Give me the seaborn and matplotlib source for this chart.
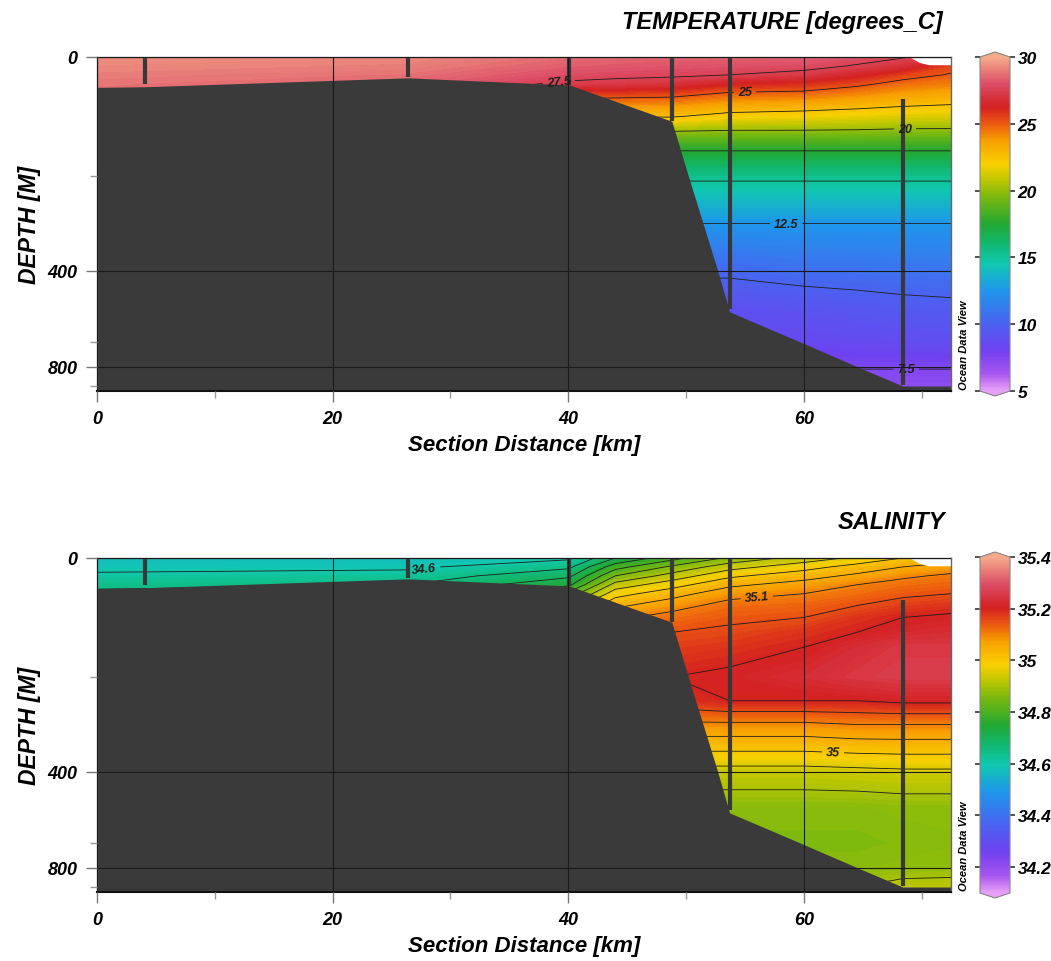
import numpy as np
import matplotlib
matplotlib.use("Agg")
import matplotlib.pyplot as plt
import seaborn as sns
from matplotlib.colors import LinearSegmentedColormap, Normalize
from matplotlib.scale import FuncScale
import matplotlib.cm as cm

# ---------------- data ----------------
dist_km = [0.0, 26.4, 40.1, 44.0, 48.8, 53.7, 60.0, 64.5, 68.4, 72.5]
depth_m = [0, 15, 30, 45, 60, 80, 100, 125, 150, 200, 250, 300, 400, 500, 600, 800, 1000, 1100]

# rows = depth_m, columns = dist_km
temperature = [
    [29.4, 29.2, 28.6, 28.5, 28.4, 28.4, 28.3, 28.0, 27.6, 27.0],
    [29.2, 29.0, 28.3, 28.2, 28.1, 28.0, 27.9, 27.4, 26.8, 25.4],
    [29.0, 28.7, 27.9, 27.8, 27.7, 27.5, 27.1, 26.4, 25.5, 24.9],
    [28.8, 28.4, 27.3, 27.1, 26.9, 26.2, 25.9, 25.3, 24.6, 24.3],
    [28.6, 28.0, 25.8, 25.7, 25.6, 24.95, 24.8, 24.3, 23.8, 23.5],
    [28.3, 27.5, 24.2, 24.1, 24.0, 23.5, 23.3, 23.0, 22.7, 22.5],
    [28.0, 27.0, 22.7, 22.6, 22.6, 22.0, 21.8, 21.6, 21.4, 21.3],
    [27.5, 26.0, 20.2, 20.1, 20.0, 19.85, 19.85, 19.8, 19.7, 19.7],
    [27.0, 25.0, 18.0, 17.9, 17.9, 17.9, 17.9, 17.9, 17.9, 17.9],
    [26.0, 23.0, 15.3, 15.3, 15.3, 15.3, 15.3, 15.3, 15.3, 15.3],
    [25.0, 21.0, 13.9, 13.9, 13.9, 13.9, 13.9, 13.9, 13.9, 13.9],
    [24.0, 19.0, 12.5, 12.5, 12.5, 12.5, 12.5, 12.5, 12.5, 12.5],
    [20.0, 15.0, 10.25, 10.25, 10.25, 10.25, 10.6, 10.7, 10.8, 10.9],
    [16.0, 12.0, 9.0, 9.0, 9.0, 9.0, 9.2, 9.4, 9.6, 9.7],
    [12.0, 10.0, 8.4, 8.4, 8.4, 8.4, 8.5, 8.6, 8.7, 8.8],
    [8.0, 7.8, 7.55, 7.55, 7.55, 7.55, 7.55, 7.55, 7.55, 7.55],
    [7.1, 7.1, 7.1, 7.1, 7.1, 7.1, 7.1, 7.1, 7.1, 7.1],
    [7.0, 7.0, 7.0, 7.0, 7.0, 7.0, 7.0, 7.0, 7.0, 7.0],
]

salinity = [
    [34.57, 34.57, 34.59, 34.70, 34.78, 34.86, 34.92, 34.96, 35.00, 35.03],
    [34.585, 34.59, 34.64, 34.78, 34.86, 34.93, 34.98, 35.02, 35.05, 35.07],
    [34.61, 34.62, 34.69, 34.85, 34.92, 34.99, 35.03, 35.06, 35.09, 35.11],
    [34.64, 34.65, 34.74, 34.92, 34.98, 35.04, 35.07, 35.10, 35.12, 35.13],
    [34.66, 34.70, 34.82, 34.98, 35.03, 35.08, 35.10, 35.12, 35.14, 35.15],
    [34.75, 34.80, 34.92, 35.04, 35.08, 35.12, 35.13, 35.15, 35.17, 35.18],
    [34.85, 34.90, 35.00, 35.09, 35.12, 35.14, 35.15, 35.18, 35.20, 35.21],
    [35.00, 35.05, 35.10, 35.13, 35.15, 35.16, 35.18, 35.20, 35.22, 35.23],
    [35.10, 35.12, 35.15, 35.17, 35.17, 35.18, 35.20, 35.23, 35.25, 35.25],
    [35.15, 35.18, 35.20, 35.20, 35.20, 35.21, 35.23, 35.25, 35.26, 35.26],
    [35.15, 35.16, 35.18, 35.18, 35.18, 35.20, 35.20, 35.20, 35.21, 35.21],
    [35.09, 35.09, 35.09, 35.09, 35.09, 35.09, 35.09, 35.10, 35.10, 35.10],
    [34.93, 34.93, 34.93, 34.93, 34.93, 34.93, 34.93, 34.935, 34.94, 34.94],
    [34.87, 34.87, 34.87, 34.87, 34.87, 34.87, 34.87, 34.87, 34.875, 34.875],
    [34.86, 34.86, 34.86, 34.86, 34.86, 34.86, 34.86, 34.86, 34.865, 34.87],
    [34.87, 34.87, 34.87, 34.87, 34.87, 34.87, 34.87, 34.87, 34.875, 34.88],
    [34.89, 34.89, 34.89, 34.89, 34.89, 34.89, 34.89, 34.90, 34.92, 34.92],
    [34.90, 34.90, 34.90, 34.90, 34.90, 34.90, 34.90, 34.91, 34.93, 34.93],
]

# bathymetry (sea floor) and stations
bathy_km = [0.0, 4.06, 26.4, 40.1, 48.8, 50.2, 52.7, 53.7, 59.7, 64.6, 68.4, 72.5]
bathy_m = [51, 50, 35, 47, 108, 200, 400, 515, 600, 800, 1000, 1000]
station_km = [4.06, 26.4, 40.1, 48.8, 53.7, 68.4]
station_top_m = [0, 0, 0, 0, 0, 71]
station_bottom_m = [45, 34, 47, 108, 507, 990]
nodata_km = [69.0, 69.8, 70.6, 72.5]
nodata_m = [0, 9, 13, 13]

temp_lines = [7.5, 10, 12.5, 15, 17.5, 20, 22.5, 25, 27.5]
temp_ticks = [5, 10, 15, 20, 25, 30]
sal_lines = [34.6, 34.65, 34.7, 34.75, 34.8, 34.85, 34.9, 34.95, 35.0, 35.05, 35.1, 35.15, 35.2]
sal_ticks = [34.2, 34.4, 34.6, 34.8, 35.0, 35.2, 35.4]
x_major = [0, 20, 40, 60]
x_minor = [10, 30, 50, 70]
y_major = [0, 400, 800]
y_minor = [200, 600, 1000]

temp_label_pos = [(39.2, 42), (55.0, 58), (68.6, 123), (58.5, 301), (68.7, 815)]
sal_label_pos = [(27.8, 24), (56.0, 64), (62.5, 355)]

# ---------------- style ----------------
sns.set_theme(style="ticks")
plt.rcParams['font.family'] = ['Liberation Sans', 'DejaVu Sans']
plt.rcParams['font.weight'] = 'bold'
plt.rcParams['font.style'] = 'italic'
plt.rcParams['axes.labelweight'] = 'bold'
plt.rcParams['text.color'] = 'black'
plt.rcParams['axes.labelcolor'] = 'black'
plt.rcParams['xtick.labelcolor'] = 'black'
plt.rcParams['ytick.labelcolor'] = 'black'

odv_colors = ["#e6a0f5", "#a855f0", "#7040f0", "#4a62f0", "#1e96ec", "#10c8b0",
              "#10b870", "#22a832", "#78b80e", "#c8c800", "#f8d000", "#f8a000",
              "#ec5a10", "#d42020", "#dc4c64", "#f4aa8c"]
odv_pos = [0, 0.05, 0.12, 0.2, 0.3, 0.38, 0.44, 0.5, 0.58, 0.64, 0.68, 0.75,
           0.8, 0.85, 0.92, 1.0]
cmap = LinearSegmentedColormap.from_list("odv", list(zip(odv_pos, odv_colors)))
cmap.set_under(odv_colors[0])
cmap.set_over(odv_colors[-1])

# nonlinear ODV-like depth axis
_sd = np.array([0, 200, 400, 600, 800, 1000, 1100], float)
_sp = np.array([0, 119, 214, 285, 310, 329, 339], float)


def fwd(d):
    d = np.asarray(d, float)
    return np.where(d < 0, d * 119 / 200,
                    np.where(d > 1100, 339 + (d - 1100) * 0.1, np.interp(d, _sd, _sp)))


def inv(p):
    p = np.asarray(p, float)
    return np.where(p < 0, p * 200 / 119,
                    np.where(p > 339, 1100 + (p - 339) / 0.1, np.interp(p, _sp, _sd)))


W, H = 1051, 962
fig = plt.figure(figsize=(W / 100, H / 100), dpi=100)


def panel(top_px, field, vmin, vmax, lines, label_pos, ticks, title, cbar_top, cbar_bot, title_x):
    ax = fig.add_axes([97 / W, 1 - (top_px + 334) / H, 854 / W, 334 / H])
    ax.set_yscale(FuncScale(ax, (fwd, inv)))
    X, Y = np.meshgrid(dist_km, depth_m)
    Z = np.array(field)
    norm = Normalize(vmin, vmax)
    ax.contourf(X, Y, Z, levels=np.linspace(vmin, vmax, 161), cmap=cmap, norm=norm,
                extend='both', zorder=1)
    cs = ax.contour(X, Y, Z, levels=lines, colors='#1e1e1e', linewidths=0.6, zorder=1.5)
    ax.fill_between(bathy_km, bathy_m, 1100, color='#3a3a3a', lw=0, zorder=2)
    ax.fill_between(nodata_km, 0, nodata_m, color='white', lw=0, zorder=2)
    ax.vlines(station_km, station_top_m, station_bottom_m, color='#383838', lw=3, zorder=2.2)
    ax.set_xlim(0, 72.5)
    ax.set_ylim(1050, 0)
    labs = ax.clabel(cs, manual=label_pos, inline=True, inline_spacing=4, fontsize=9, fmt='%g')
    for t in labs:
        t.set_fontweight('bold')
        t.set_fontstyle('italic')
        t.set_zorder(3)
    ax.set_xticks(x_major)
    ax.set_xticks(x_minor, minor=True)
    ax.set_yticks(y_major)
    ax.set_yticks(y_minor, minor=True)
    ax.set_yticklabels([str(v) for v in y_major])
    ax.set_xticklabels([str(v) for v in x_major])
    ax.tick_params(which='major', length=8, width=1, color='#777777', labelsize=13, pad=6)
    ax.tick_params(which='minor', length=5, width=1, color='#999999')
    ax.grid(True, which='major', color='#1a1a1a', lw=0.8)
    ax.set_axisbelow(False)
    for s in ['top', 'right', 'left']:
        ax.spines[s].set_color('#666666')
        ax.spines[s].set_linewidth(1.0)
    ax.spines['bottom'].set_color('#111111')
    ax.spines['bottom'].set_linewidth(1.5)
    ax.set_xlabel('Section Distance [km]', fontsize=16, fontweight='bold', labelpad=5)
    ax.set_ylabel('DEPTH [M]', fontsize=16.5, fontweight='bold', labelpad=5)
    fig.text(title_x / W, 1 - (top_px - 36) / H, title, fontsize=17, ha='right', va='center')
    fig.text(964 / W, 1 - (top_px + 332) / H, 'Ocean Data View', fontsize=8,
             rotation=90, ha='center', va='bottom')

    cax = fig.add_axes([980 / W, 1 - cbar_bot / H, 30 / W, (cbar_bot - cbar_top) / H])
    sm = cm.ScalarMappable(norm=norm, cmap=cmap)
    cb = fig.colorbar(sm, cax=cax, extend='both', extendfrac=0.015)
    cb.set_ticks(ticks)
    cb.set_ticklabels([('%g' % v) for v in ticks])
    cb.outline.set_edgecolor('#888888')
    cb.outline.set_linewidth(0.8)
    cax.tick_params(axis='y', which='major', direction='inout', left=True, right=True,
                    length=7, width=1.2, color='#333333', labelsize=12.5, pad=2)
    cax.minorticks_off()
    return ax


panel(58, temperature, 5, 30, temp_lines, temp_label_pos, temp_ticks,
      'TEMPERATURE [degrees_C]', 53, 397, 943)
panel(559, salinity, 34.1, 35.4, sal_lines, sal_label_pos, sal_ticks,
      'SALINITY', 553, 899, 945)

fig.savefig("out.png", dpi=100)
